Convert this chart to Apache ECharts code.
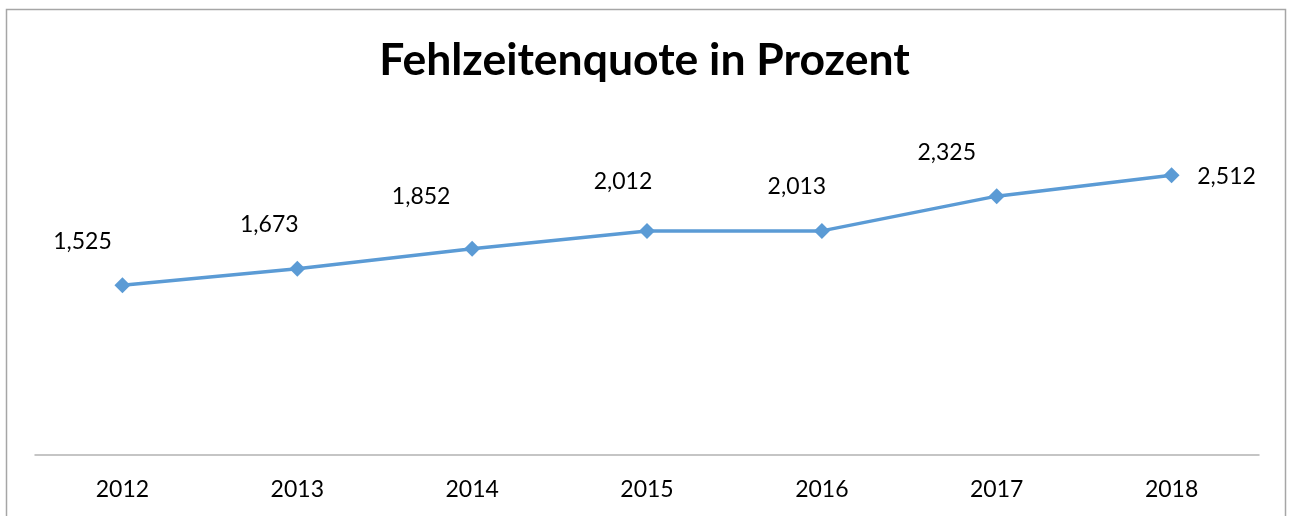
<!DOCTYPE html>
<html lang="de" style="height: 100%">
<head>
  <meta charset="utf-8">
</head>
<body style="height: 100%; margin: 0; background: #fff">
  <div id="container" style="width: 1289px; height: 516px"></div>

  <script type="text/javascript" src="https://fastly.jsdelivr.net/npm/echarts@6/dist/echarts.min.js"></script>
  <script type="text/javascript">
    var years = ['2012', '2013', '2014', '2015', '2016', '2017', '2018'];
    var quote = [1.525, 1.673, 1.852, 2.012, 2.013, 2.325, 2.512];

    // label offsets from the marker centre (as in the source chart)
    var labelOffsets = [[-40, -44], [-28, -44], [-51, -52], [-24, -49], [-25, -44], [-50, -44], [55, 1]];

    var dom = document.getElementById('container');
    var myChart = echarts.init(dom, null, { renderer: 'canvas' });
    var fontFamily = 'Lato, "Open Sans", sans-serif';

    var option = {
      backgroundColor: '#ffffff',
      animation: false,
      textStyle: { fontFamily: fontFamily },
      title: {
        text: 'Fehlzeitenquote in Prozent',
        left: 'center',
        top: 33,
        textStyle: { fontSize: 44.5, fontWeight: 'bold', color: '#000000', fontFamily: fontFamily }
      },
      graphic: [{
        type: 'rect',
        shape: { x: 6.5, y: 9.5, width: 1279, height: 540 },
        style: { fill: 'none', stroke: '#a6a6a6', lineWidth: 1.5 },
        silent: true
      }],
      grid: { left: 35, right: 30, top: 121, bottom: 61 },
      xAxis: {
        type: 'category',
        data: years,
        boundaryGap: true,
        axisLine: { lineStyle: { color: '#b3b3b3', width: 1.5 } },
        axisTick: { show: false },
        axisLabel: { fontSize: 23, color: '#000000', margin: 23, fontFamily: fontFamily }
      },
      yAxis: {
        type: 'value',
        min: 0,
        max: 3,
        show: false,
        splitLine: { show: false }
      },
      series: [{
        type: 'line',
        data: quote.map(function (v, i) {
          return {
            value: v,
            label: { offset: labelOffsets[i] }
          };
        }),
        symbol: 'diamond',
        symbolSize: 16,
        lineStyle: { color: '#5b9bd5', width: 3.5 },
        itemStyle: { color: '#5b9bd5' },
        label: {
          show: true,
          position: 'inside',
          fontSize: 23,
          color: '#000000',
          fontFamily: fontFamily,
          formatter: function (p) { return p.value.toFixed(3).replace('.', ','); }
        }
      }]
    };

    myChart.setOption(option);
    window.addEventListener('resize', myChart.resize);
  </script>
</body>
</html>
